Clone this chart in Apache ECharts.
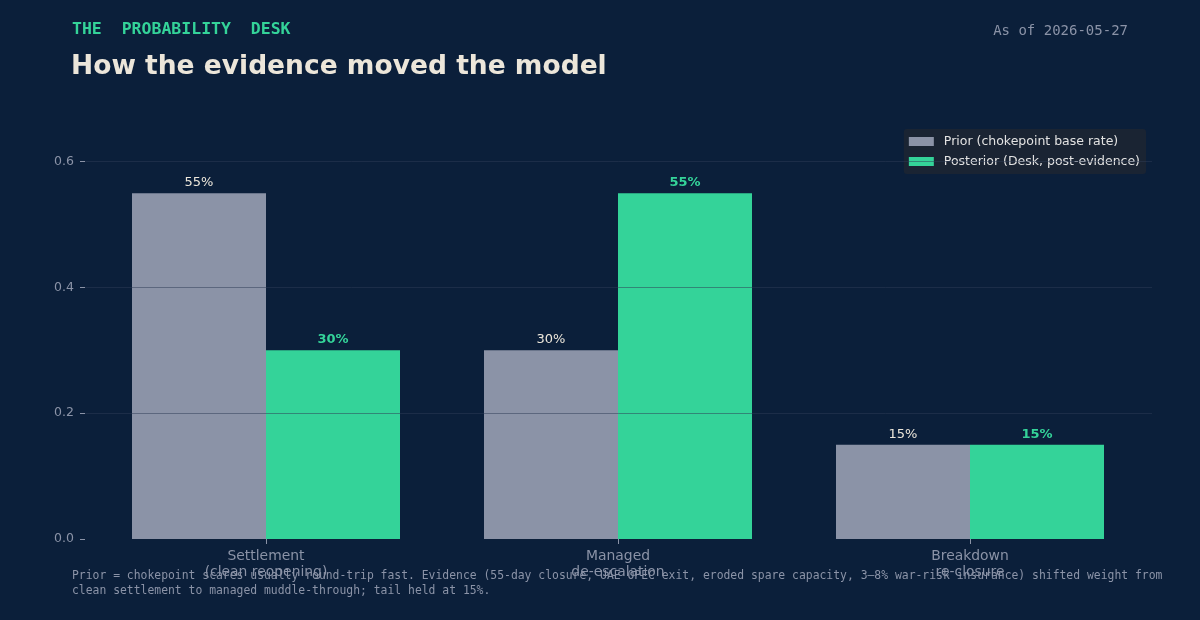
<!DOCTYPE html>
<html>
<head>
<meta charset="utf-8">
<script src="https://cdn.jsdelivr.net/npm/echarts@6/dist/echarts.min.js"></script>
<style>
  html, body { margin: 0; padding: 0; background: #0b1f3a; }
  #main { width: 1200px; height: 620px; }
</style>
</head>
<body>
<div id="main"></div>
<script>
// data
var categories = ['Settlement\n(clean reopening)', 'Managed\nde-escalation', 'Breakdown\nre-closure'];
var priorValues = [0.55, 0.30, 0.15];
var posteriorValues = [0.30, 0.55, 0.15];

var chart = echarts.init(document.getElementById('main'));

var mono = "'DejaVu Sans Mono', monospace";
var sans = "'DejaVu Sans', sans-serif";
var yMax = 0.66;

var option = {
    backgroundColor: '#0b1f3a',
    animation: false,
    title: [
        {
            text: 'THE  PROBABILITY  DESK',
            left: 67, top: 16,
            textStyle: { color: '#34d399', fontFamily: mono, fontSize: 16.5, fontWeight: 'bold' }
        },
        {
            text: 'How the evidence moved the model',
            left: 66, top: 49,
            textStyle: { color: '#ece6da', fontFamily: sans, fontSize: 26.5, fontWeight: 'bold' }
        },
        {
            text: 'As of 2026-05-27',
            right: 67, top: 19,
            textStyle: { color: '#8b93a7', fontFamily: mono, fontSize: 14, fontWeight: 'normal' }
        },
        {
            text: 'Prior = chokepoint scares usually round-trip fast. Evidence (55-day closure, UAE OPEC exit, eroded spare capacity, 3\u20138% war-risk insurance) shifted weight from\nclean settlement to managed muddle-through; tail held at 15%.',
            left: 67, top: 564,
            textStyle: { color: '#8b93a7', fontFamily: mono, fontSize: 11.4, fontWeight: 'normal', lineHeight: 15 }
        }
    ],
    legend: {
        right: 54, top: 129,
        orient: 'vertical',
        backgroundColor: '#1a2433',
        borderRadius: 3,
        padding: [6, 6, 6, 5],
        icon: 'rect',
        itemWidth: 25, itemHeight: 9, itemGap: 7,
        textStyle: { color: '#e2e2e2', fontFamily: sans, fontSize: 12.5, padding: [0, 0, 0, 5] },
        data: ['Prior (chokepoint base rate)', 'Posterior (Desk, post-evidence)']
    },
    grid: [
        // frame for y axis, grid lines over the bars
        { left: 85, right: 48, top: 124, bottom: 81 },
        // bars
        { left: 90, right: 54, top: 124, bottom: 81 }
    ],
    xAxis: [
        { type: 'category', gridIndex: 0, data: categories, show: false },
        {
            type: 'category',
            gridIndex: 1,
            data: categories,
            axisLine: { show: false },
            axisTick: { show: true, alignWithLabel: true, length: 5, lineStyle: { color: '#8b93a7' } },
            axisLabel: { color: '#8b93a7', fontFamily: sans, fontSize: 13.9, margin: 9, lineHeight: 16 }
        }
    ],
    yAxis: [
        {
            type: 'value',
            gridIndex: 0,
            z: 10,
            min: 0, max: yMax, interval: 0.2,
            axisLine: { show: false },
            axisTick: { show: true, length: 5, lineStyle: { color: '#8b93a7' } },
            splitLine: {
                show: true,
                showMinLine: false,
                showMaxLine: false,
                lineStyle: { color: 'rgba(46,60,85,0.5)', width: 1 }
            },
            axisLabel: {
                color: '#8b93a7', fontFamily: sans, fontSize: 12.5, margin: 11,
                showMaxLabel: false,
                formatter: function (v) { return v.toFixed(1); }
            }
        },
        { type: 'value', gridIndex: 1, min: 0, max: yMax, show: false }
    ],
    series: [
        {
            name: 'Prior (chokepoint base rate)',
            type: 'bar',
            xAxisIndex: 1, yAxisIndex: 1,
            data: priorValues,
            barWidth: 134,
            barGap: '0%',
            itemStyle: { color: '#8b93a7' },
            label: {
                show: true, position: 'top', distance: 4,
                color: '#ece6da', fontFamily: sans, fontSize: 13, 
                formatter: function (p) { return Math.round(p.value * 100) + '%'; }
            }
        },
        {
            name: 'Posterior (Desk, post-evidence)',
            type: 'bar',
            xAxisIndex: 1, yAxisIndex: 1,
            data: posteriorValues,
            barWidth: 134,
            itemStyle: { color: '#34d399' },
            label: {
                show: true, position: 'top', distance: 4,
                color: '#34d399', fontFamily: sans, fontSize: 13, fontWeight: 'bold',
                formatter: function (p) { return Math.round(p.value * 100) + '%'; }
            }
        }
    ]
};

chart.setOption(option);
</script>
</body>
</html>
